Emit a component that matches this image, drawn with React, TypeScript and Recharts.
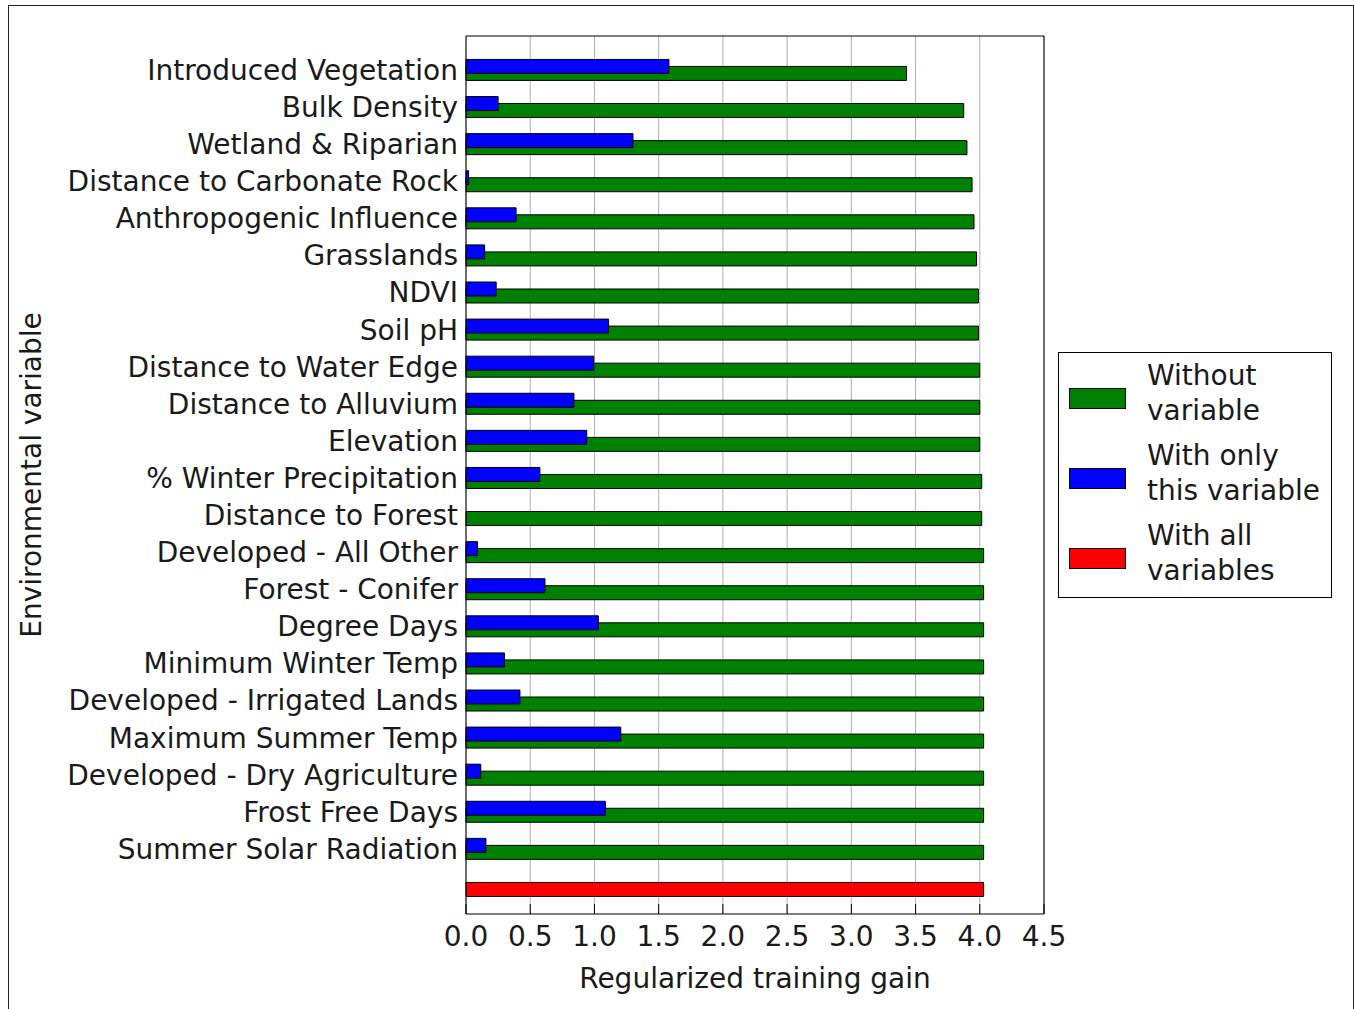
import React from 'react';
import { BarChart, Bar, XAxis, YAxis, CartesianGrid, Cell, Legend, Label } from 'recharts';

// jackknife of regularized training gain per environmental variable
const variables = [
    'Introduced Vegetation',
    'Bulk Density',
    'Wetland & Riparian',
    'Distance to Carbonate Rock',
    'Anthropogenic Influence',
    'Grasslands',
    'NDVI',
    'Soil pH',
    'Distance to Water Edge',
    'Distance to Alluvium',
    'Elevation',
    '% Winter Precipitation',
    'Distance to Forest',
    'Developed - All Other',
    'Forest - Conifer',
    'Degree Days',
    'Minimum Winter Temp',
    'Developed - Irrigated Lands',
    'Maximum Summer Temp',
    'Developed - Dry Agriculture',
    'Frost Free Days',
    'Summer Solar Radiation',
];

const withoutGain = [
    3.43, 3.875, 3.9, 3.94, 3.955, 3.975, 3.99, 3.99, 4.0, 4.0, 4.0,
    4.015, 4.015, 4.03, 4.03, 4.03, 4.03, 4.03, 4.03, 4.03, 4.03, 4.03,
];

const withOnlyGain = [
    1.58, 0.25, 1.3, 0.02, 0.39, 0.145, 0.235, 1.11, 0.995, 0.84, 0.94,
    0.575, 0, 0.09, 0.615, 1.03, 0.3, 0.42, 1.205, 0.115, 1.085, 0.155,
];

const allVariablesGain = 4.03;

const gainTicks = [0, 0.5, 1, 1.5, 2, 2.5, 3, 3.5, 4, 4.5];

const legendItems = [
    { lines: ['Without', 'variable'], color: '#008000' },
    { lines: ['With only', 'this variable'], color: '#0000ff' },
    { lines: ['With all', 'variables'], color: '#ff0000' },
];

const rows = [
    ...variables.map((name, i) => ({ name, without: withoutGain[i], only: withOnlyGain[i] })),
    { name: '', without: allVariablesGain, only: null },
];

const FONT = '"DejaVu Sans", sans-serif';
const TEXT = '#1a1a1a';
const yPadding = { top: 15.45, bottom: 9.45 };

const JackknifeLegend = () => (
    <div style={styles.legendBox}>
        {legendItems.map((item, i) => (
            <div key={item.color} style={{ ...styles.legendEntry, marginTop: i === 0 ? 0 : 10 }}>
                <div style={{ ...styles.swatch, background: item.color }} />
                {item.lines.map(line => (
                    <div key={line} style={styles.legendLine}>{line}</div>
                ))}
            </div>
        ))}
    </div>
);

export default function App() {
    return (
        <div style={styles.page}>
            <div style={styles.frame} />
            <BarChart
                width={1354}
                height={1010}
                data={rows}
                layout="vertical"
                margin={{ top: 35, right: 309, bottom: 0, left: 0 }}
                barSize={14}
                barGap={-21}
            >
                <CartesianGrid horizontal={false} stroke="#b0b0b0" />
                <XAxis
                    type="number"
                    domain={[0, 4.5]}
                    ticks={gainTicks}
                    height={96}
                    tickSize={-10}
                    tickMargin={22.5}
                    tickFormatter={(v: number) => v.toFixed(1)}
                    tick={{ fontSize: 28, fill: TEXT, fontFamily: FONT }}
                    axisLine={{ stroke: '#000' }}
                    tickLine={{ stroke: '#000' }}
                >
                    <Label value="Regularized training gain" position="center" dy={16} fontSize={28} fill={TEXT} fontFamily={FONT} />
                </XAxis>
                <XAxis
                    xAxisId="top"
                    orientation="top"
                    type="number"
                    domain={[0, 4.5]}
                    ticks={gainTicks}
                    height={1}
                    tick={false}
                    tickSize={-10}
                    axisLine={{ stroke: '#000' }}
                    tickLine={{ stroke: '#000' }}
                />
                <YAxis
                    type="category"
                    dataKey="name"
                    width={466}
                    interval={0}
                    padding={yPadding}
                    tickLine={false}
                    tickSize={0}
                    tickMargin={8}
                    tick={{ fontSize: 28, fill: TEXT, fontFamily: FONT }}
                    axisLine={{ stroke: '#000' }}
                >
                    <Label value="Environmental variable" angle={-90} position="center" dx={-202} fontSize={28} fill={TEXT} fontFamily={FONT} />
                </YAxis>
                <YAxis
                    yAxisId="right"
                    orientation="right"
                    type="category"
                    dataKey="name"
                    width={1}
                    padding={yPadding}
                    tick={false}
                    tickLine={false}
                    axisLine={{ stroke: '#000' }}
                />
                <Bar dataKey="without" fill="#008000" stroke="#000" isAnimationActive={false}>
                    {rows.map((r, i) => (
                        <Cell key={i} fill={i === rows.length - 1 ? '#ff0000' : '#008000'} />
                    ))}
                </Bar>
                <Bar dataKey="only" fill="#0000ff" stroke="#000" isAnimationActive={false} />
                <Legend
                    layout="horizontal"
                    align="center"
                    verticalAlign="middle"
                    content={() => <JackknifeLegend />}
                    wrapperStyle={{ left: 1058, top: 352, width: 274 }}
                />
            </BarChart>
        </div>
    );
}

const styles = {
    page: {
        position: 'absolute' as const, left: 0, top: 0, width: 1354, height: 1009,
        overflow: 'hidden', background: '#fff', fontFamily: FONT,
    },
    frame: {
        position: 'absolute' as const, left: 8, top: 5, width: 1346, height: 1010,
        border: '1px solid #222', boxSizing: 'border-box' as const,
    },
    legendBox: {
        width: 274, boxSizing: 'border-box' as const, border: '1px solid #000',
        padding: '5px 0 9px 0', background: '#fff',
    },
    legendEntry: { position: 'relative' as const, height: 70, paddingLeft: 88 },
    swatch: {
        position: 'absolute' as const, left: 10, top: 30, width: 57, height: 21,
        border: '1px solid #000', boxSizing: 'border-box' as const,
    },
    legendLine: { fontSize: 28, lineHeight: '35px', color: TEXT, whiteSpace: 'nowrap' as const },
};
